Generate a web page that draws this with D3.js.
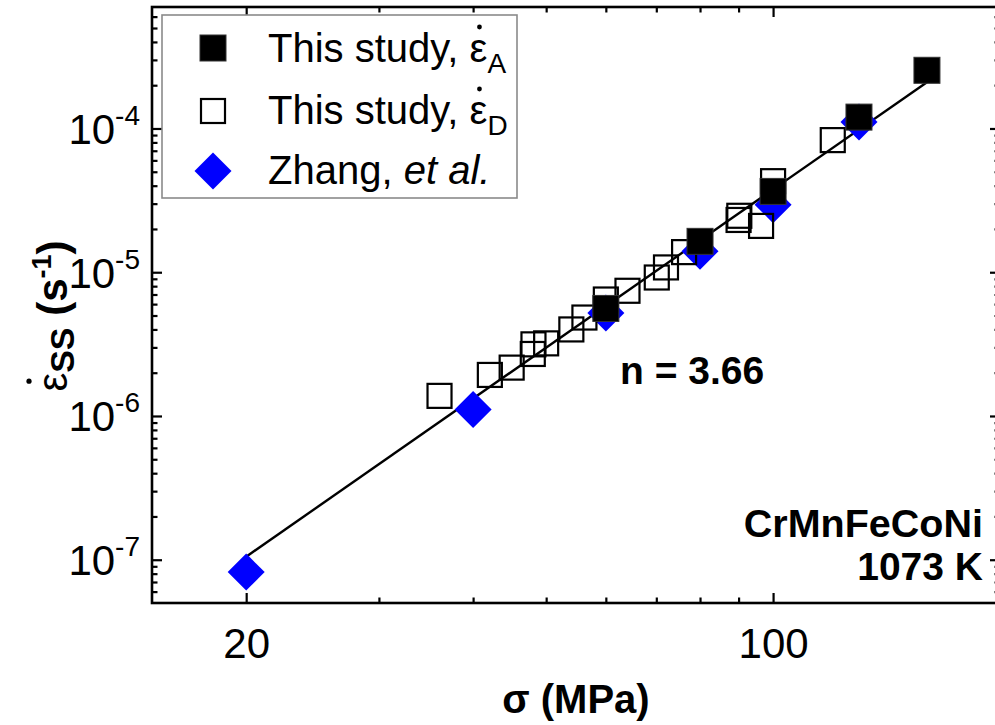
<!DOCTYPE html>
<html><head><meta charset="utf-8">
<script src="https://cdn.jsdelivr.net/npm/d3@7"></script>
<style>
body{margin:0;background:#fff;}
svg{display:block;font-family:"Liberation Sans",Arial,Helvetica,sans-serif;}
</style>
</head><body>
<svg id="chart" width="995" height="725"></svg>
<script>
// ---------- data ----------
const studyA_sigma = [60, 80, 100, 130, 160];
const studyA_rate  = [5.6e-6, 1.64e-5, 3.65e-5, 1.2e-4, 2.54e-4];

const studyD_sigma = [36.1, 42.1, 45.0, 48.1, 48.0, 50.0, 54.0, 56.2, 60.0, 64.1, 70.1, 72.1, 76.2, 90.2, 90.0, 96.4, 100, 120];
const studyD_rate  = [1.38e-6, 1.93e-6, 2.17e-6, 3.15e-6, 2.7e-6, 3.2e-6, 4.0e-6, 4.84e-6, 6.46e-6, 7.43e-6, 9.19e-6, 1.08e-5, 1.38e-5, 2.47e-5, 2.31e-5, 2.1e-5, 4.3e-5, 8.3e-5];

const zhang_sigma = [20, 40, 60, 80, 100, 130];
const zhang_rate  = [8.2e-8, 1.11e-6, 5.2e-6, 1.4e-5, 2.95e-5, 1.11e-4];

const fit_sigma = [20, 160];
const fit_rate  = [1.05e-7, 2.1e-4];

const xMajorTicks = [20, 100];
const xMajorLabels = ["20", "100"];
const xMinorTicks = [30, 40, 50, 60, 70, 80, 90];
const yMajorExponents = [-7, -6, -5, -4];
const yMinorMantissas = [2, 3, 4, 5, 6, 7, 8, 9];

const legendLabels = [
  {main: "This study, ", sym: "ε", sub: "A"},
  {main: "This study, ", sym: "ε", sub: "D"},
  {main: "Zhang, ", ital: "et al."}
];
const fitLabel = "n = 3.66";
const alloyLabel = "CrMnFeCoNi";
const tempLabel = "1073 K";

// ---------- layout ----------
const L = 152, R = 1000, T = 7, B = 603;
const svg = d3.select("#chart");
const x = d3.scaleLog().domain([15, 200]).range([L, R]);
const y = d3.scaleLog().domain([5e-8, 7e-4]).range([B, T]);

const FONT = '"Liberation Sans",Arial,Helvetica,sans-serif';

const yMinor = [];
for (let e = -8; e <= -4; e++) yMinorMantissas.forEach(m => {
  const v = m * Math.pow(10, e);
  if (v > 5e-8 && v < 7e-4) yMinor.push(v);
});
const yMajor = yMajorExponents.map(e => Math.pow(10, e));

// ---------- axes (ticks inward) ----------
function styleAxis(g) {
  g.select(".domain").remove();
  g.selectAll(".tick line").attr("stroke", "#000").attr("stroke-width", 2.2);
}
// bottom
svg.append("g").attr("transform", `translate(0,${B})`)
  .call(d3.axisBottom(x).tickValues(xMajorTicks).tickSizeInner(-10).tickSizeOuter(0).tickPadding(25)
    .tickFormat((d, i) => xMajorLabels[i]))
  .call(styleAxis)
  .call(g => g.selectAll("text").attr("font-size", 42).attr("font-family", FONT).attr("fill", "#000"));
svg.append("g").attr("transform", `translate(0,${B})`)
  .call(d3.axisBottom(x).tickValues(xMinorTicks).tickSizeInner(-5.5).tickSizeOuter(0).tickFormat(""))
  .call(styleAxis);
// top
svg.append("g").attr("transform", `translate(0,${T})`)
  .call(d3.axisTop(x).tickValues(xMajorTicks).tickSizeInner(-10).tickSizeOuter(0).tickFormat(""))
  .call(styleAxis);
svg.append("g").attr("transform", `translate(0,${T})`)
  .call(d3.axisTop(x).tickValues(xMinorTicks).tickSizeInner(-5.5).tickSizeOuter(0).tickFormat(""))
  .call(styleAxis);
// left
const leftAx = svg.append("g").attr("transform", `translate(${L},0)`)
  .call(d3.axisLeft(y).tickValues(yMajor).tickSizeInner(-10).tickSizeOuter(0).tickPadding(12)
    .tickFormat(""))
  .call(styleAxis);
leftAx.selectAll(".tick text").each(function(d, i) {
  const t = d3.select(this).attr("font-family", FONT).attr("fill", "#000").attr("dy", null).attr("y", 15);
  t.append("tspan").attr("font-size", 42).text("10");
  t.append("tspan").attr("font-size", 28).attr("dy", -19).text(String(yMajorExponents[i]));
});
svg.append("g").attr("transform", `translate(${L},0)`)
  .call(d3.axisLeft(y).tickValues(yMinor).tickSizeInner(-5.5).tickSizeOuter(0).tickFormat(""))
  .call(styleAxis);
// right
svg.append("g").attr("transform", `translate(${R},0)`)
  .call(d3.axisRight(y).tickValues(yMajor).tickSizeInner(-10).tickSizeOuter(0).tickFormat(""))
  .call(styleAxis);
svg.append("g").attr("transform", `translate(${R},0)`)
  .call(d3.axisRight(y).tickValues(yMinor).tickSizeInner(-5.5).tickSizeOuter(0).tickFormat(""))
  .call(styleAxis);

// frame
svg.append("rect").attr("x", L).attr("y", T).attr("width", R - L).attr("height", B - T)
  .attr("fill", "none").attr("stroke", "#000").attr("stroke-width", 2.6);

// ---------- fit line ----------
const line = d3.line().x(d => x(d[0])).y(d => y(d[1]));
svg.append("path").datum(d3.zip(fit_sigma, fit_rate)).attr("d", line)
  .attr("fill", "none").attr("stroke", "#000").attr("stroke-width", 2.4);

// ---------- markers ----------
const diamond = (s) => `M0,${-s}L${s},0L0,${s}L${-s},0Z`;
svg.append("g").selectAll("path").data(d3.zip(zhang_sigma, zhang_rate)).join("path")
  .attr("transform", d => `translate(${x(d[0])},${y(d[1])})`)
  .attr("d", diamond(18.5)).attr("fill", "#0000ff");
const SQ = 26;
svg.append("g").selectAll("rect").data(d3.zip(studyD_sigma, studyD_rate)).join("rect")
  .attr("x", d => x(d[0]) - (SQ - 2) / 2).attr("y", d => y(d[1]) - (SQ - 2) / 2)
  .attr("width", SQ - 2).attr("height", SQ - 2)
  .attr("fill", "none").attr("stroke", "#000").attr("stroke-width", 2.2);
svg.append("g").selectAll("rect").data(d3.zip(studyA_sigma, studyA_rate)).join("rect")
  .attr("x", d => x(d[0]) - SQ / 2).attr("y", d => y(d[1]) - SQ / 2)
  .attr("width", SQ).attr("height", SQ)
  .attr("fill", "#000").attr("stroke", "#333").attr("stroke-width", 1);

// ---------- helper: dot above a character ----------
function dotAbove(textSel, charIndex, parent, rise, r, dx) {
  const node = textSel.node();
  const ext = node.getExtentOfChar(charIndex);
  parent.append("circle").attr("cx", ext.x + ext.width / 2 + (dx || 1)).attr("cy", ext.y + rise)
    .attr("r", r).attr("fill", "#000");
}

// ---------- legend ----------
const lg = svg.append("g");
lg.append("rect").attr("x", 162).attr("y", 15).attr("width", 355).attr("height", 183)
  .attr("fill", "#fff").attr("stroke", "#8a8a8a").attr("stroke-width", 1.6);
const rowY = [48, 111, 171];
lg.append("rect").attr("x", 213 - SQ / 2).attr("y", rowY[0] - SQ / 2).attr("width", SQ).attr("height", SQ)
  .attr("fill", "#000").attr("stroke", "#333").attr("stroke-width", 1);
lg.append("rect").attr("x", 213 - (SQ - 2) / 2).attr("y", rowY[1] - (SQ - 2) / 2).attr("width", SQ - 2).attr("height", SQ - 2)
  .attr("fill", "none").attr("stroke", "#000").attr("stroke-width", 2.2);
lg.append("path").attr("transform", `translate(213,${rowY[2]})`).attr("d", diamond(18.5)).attr("fill", "#0000ff");
const baselines = [62, 124, 184];
legendLabels.forEach((lab, i) => {
  const t = lg.append("text").attr("x", 268).attr("y", baselines[i]).attr("font-size", 40)
    .attr("font-family", FONT).attr("fill", "#000");
  t.append("tspan").text(lab.main);
  if (lab.sym) {
    t.append("tspan").text(lab.sym);
    t.append("tspan").attr("font-size", 28).attr("dy", 11).text(lab.sub);
    dotAbove(t, lab.main.length, lg, 1, 2.4);
  } else {
    t.append("tspan").attr("font-style", "italic").text(lab.ital);
  }
});

// ---------- annotations ----------
svg.append("text").attr("x", 620).attr("y", 384).attr("font-size", 39).attr("font-weight", "bold")
  .attr("font-family", FONT).attr("fill", "#000").text(fitLabel);
svg.append("text").attr("x", 983).attr("y", 537).attr("text-anchor", "end").attr("font-size", 39.5)
  .attr("font-weight", "bold").attr("font-family", FONT).attr("fill", "#000").text(alloyLabel);
svg.append("text").attr("x", 983).attr("y", 580).attr("text-anchor", "end").attr("font-size", 39)
  .attr("font-weight", "bold").attr("font-family", FONT).attr("fill", "#000").text(tempLabel);

// ---------- axis titles ----------
svg.append("text").attr("x", (L + R) / 2).attr("y", 713).attr("text-anchor", "middle")
  .attr("font-size", 40).attr("font-weight", "bold").attr("font-family", FONT).attr("fill", "#000")
  .text("σ (MPa)");

const yt = svg.append("g").attr("transform", "translate(67,316) rotate(-90)");
const ytt = yt.append("text").attr("text-anchor", "middle").attr("font-size", 42).attr("font-weight", "bold")
  .attr("font-family", FONT).attr("fill", "#000");
ytt.append("tspan").attr("font-weight", "normal").text("ε");
ytt.append("tspan").attr("font-size", 34).attr("dy", 7).text("SS");
ytt.append("tspan").attr("dy", -7).text(" (s");
ytt.append("tspan").attr("font-size", 27).attr("dy", -16).text("-1");
ytt.append("tspan").attr("dy", 16).text(")");
dotAbove(ytt, 0, yt, 0, 2.6);
</script>
</body></html>
